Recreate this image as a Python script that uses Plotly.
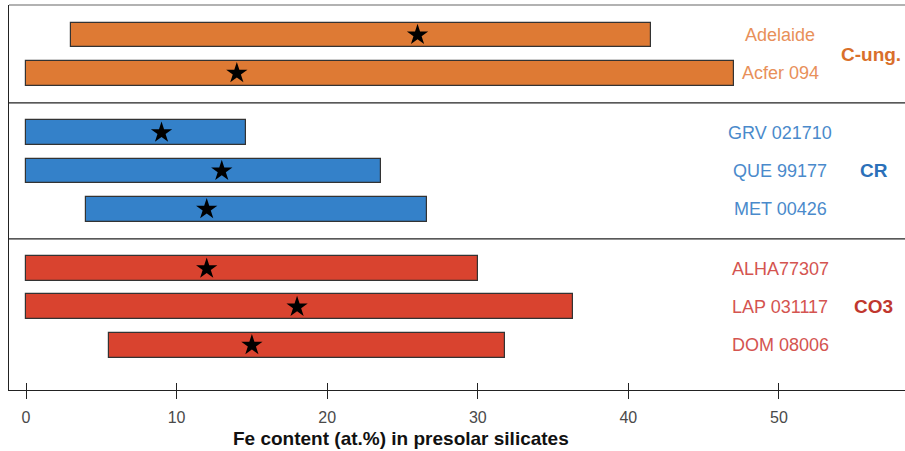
import plotly.graph_objects as go

# Meteorite samples, top to bottom, with their chondrite group
samples = ["Adelaide", "Acfer 094",
           "GRV 021710", "QUE 99177", "MET 00426",
           "ALHA77307", "LAP 031117", "DOM 08006"]
groups = ["C-ung.", "C-ung.",
          "CR", "CR", "CR",
          "CO3", "CO3", "CO3"]
# Range of Fe content (at.%) and median value per sample
fe_low = [3.0, 0.0, 0.0, 0.0, 4.0, 0.0, 0.0, 5.5]
fe_high = [41.5, 47.0, 14.6, 23.6, 26.6, 30.0, 36.3, 31.8]
fe_median = [26.0, 14.0, 9.0, 13.0, 12.0, 12.0, 18.0, 15.0]
x_ticks = [0, 10, 20, 30, 40, 50]
x_title = "Fe content (at.%) in presolar silicates"

group_order = ["C-ung.", "CR", "CO3"]
bar_colors = {"C-ung.": "#DE7A34", "CR": "#3481C9", "CO3": "#D9432F"}
label_colors = {"C-ung.": "#E8905A", "CR": "#4A8ACB", "CO3": "#D45450"}
group_label_colors = {"C-ung.": "#D96F2B", "CR": "#2B70B9", "CO3": "#C0372E"}

FONT = "Liberation Sans, Arial, Helvetica, sans-serif"
ROW_GAP = 0.55      # extra space between chondrite groups, in rows
BAR_WIDTH = 0.65

# vertical position of each row: one unit per sample, plus a gap per group
ypos = []
for i, g in enumerate(groups):
    ypos.append(i + ROW_GAP * group_order.index(g))

fig = go.Figure()

for g in group_order:
    idx = [i for i, gg in enumerate(groups) if gg == g]
    fig.add_trace(go.Bar(
        orientation="h",
        y=[ypos[i] for i in idx],
        base=[fe_low[i] for i in idx],
        x=[fe_high[i] - fe_low[i] for i in idx],
        width=BAR_WIDTH,
        marker=dict(color=bar_colors[g], line=dict(color="#333333", width=1.2)),
        showlegend=False,
        hoverinfo="skip",
    ))

# medians as stars (on the overlay axis, which carries the inward ticks)
fig.add_trace(go.Scatter(
    x=fe_median, y=ypos, mode="markers",
    marker=dict(symbol="star", size=16, color="black"),
    xaxis="x2", showlegend=False, hoverinfo="skip",
))

x_range = [-1.129, 58.37]
y_range = [9.269, -0.783]

fig.update_layout(
    width=905, height=451,
    margin=dict(l=9, r=0, t=5, b=61),
    plot_bgcolor="white", paper_bgcolor="white",
    font=dict(family=FONT),
    bargap=0,
    xaxis=dict(
        range=x_range, tickvals=x_ticks, showgrid=False, zeroline=False,
        showline=True, linecolor="#222222", linewidth=1.2,
        ticks="outside", ticklen=8, tickwidth=1.2, tickcolor="#222222",
        ticklabelstandoff=5,
        tickfont=dict(size=16, color="#4a4a4a", family=FONT),
    ),
    xaxis2=dict(
        range=x_range, overlaying="x", anchor="y", side="bottom",
        tickvals=x_ticks, showticklabels=False, showgrid=False, zeroline=False,
        ticks="inside", ticklen=7, tickwidth=1.2, tickcolor="#222222",
        showline=False,
    ),
    yaxis=dict(
        range=y_range, showgrid=False, zeroline=False, showticklabels=False,
        showline=True, linecolor="#222222", linewidth=1.2, ticks="",
    ),
)

# top border of the frame
fig.add_shape(type="line", xref="paper", yref="paper", x0=0, x1=1, y0=1, y1=1,
              line=dict(color="#999999", width=1.5))

# separators between chondrite groups
for k in range(len(samples) - 1):
    if groups[k] != groups[k + 1]:
        ymid = (ypos[k] + ypos[k + 1]) / 2
        fig.add_shape(type="line", xref="paper", yref="y", x0=0, x1=1,
                      y0=ymid, y1=ymid, line=dict(color="#222222", width=1.2))

# sample names
for i, name in enumerate(samples):
    fig.add_annotation(x=50.1, y=ypos[i], xref="x", yref="y", text=name,
                       showarrow=False, xanchor="center", yanchor="middle",
                       font=dict(size=18, color=label_colors[groups[i]], family=FONT))

# group names, centred on each group's rows
group_label_x = {"C-ung.": (54.0, "left"), "CR": (56.3, "center"), "CO3": (56.3, "center")}
for g in group_order:
    rows = [ypos[i] for i, gg in enumerate(groups) if gg == g]
    gx, anchor = group_label_x[g]
    fig.add_annotation(x=gx, y=(min(rows) + max(rows)) / 2, xref="x", yref="y",
                       text="<b>%s</b>" % g, showarrow=False, xanchor=anchor,
                       yanchor="middle",
                       font=dict(size=19, color=group_label_colors[g], family=FONT))

# axis title
fig.add_annotation(x=0.4375, y=-0.1247, xref="paper", yref="paper",
                   text="<b>%s</b>" % x_title, showarrow=False,
                   xanchor="center", yanchor="middle",
                   font=dict(size=19, color="#111111", family=FONT))

fig.write_html("out.html")
